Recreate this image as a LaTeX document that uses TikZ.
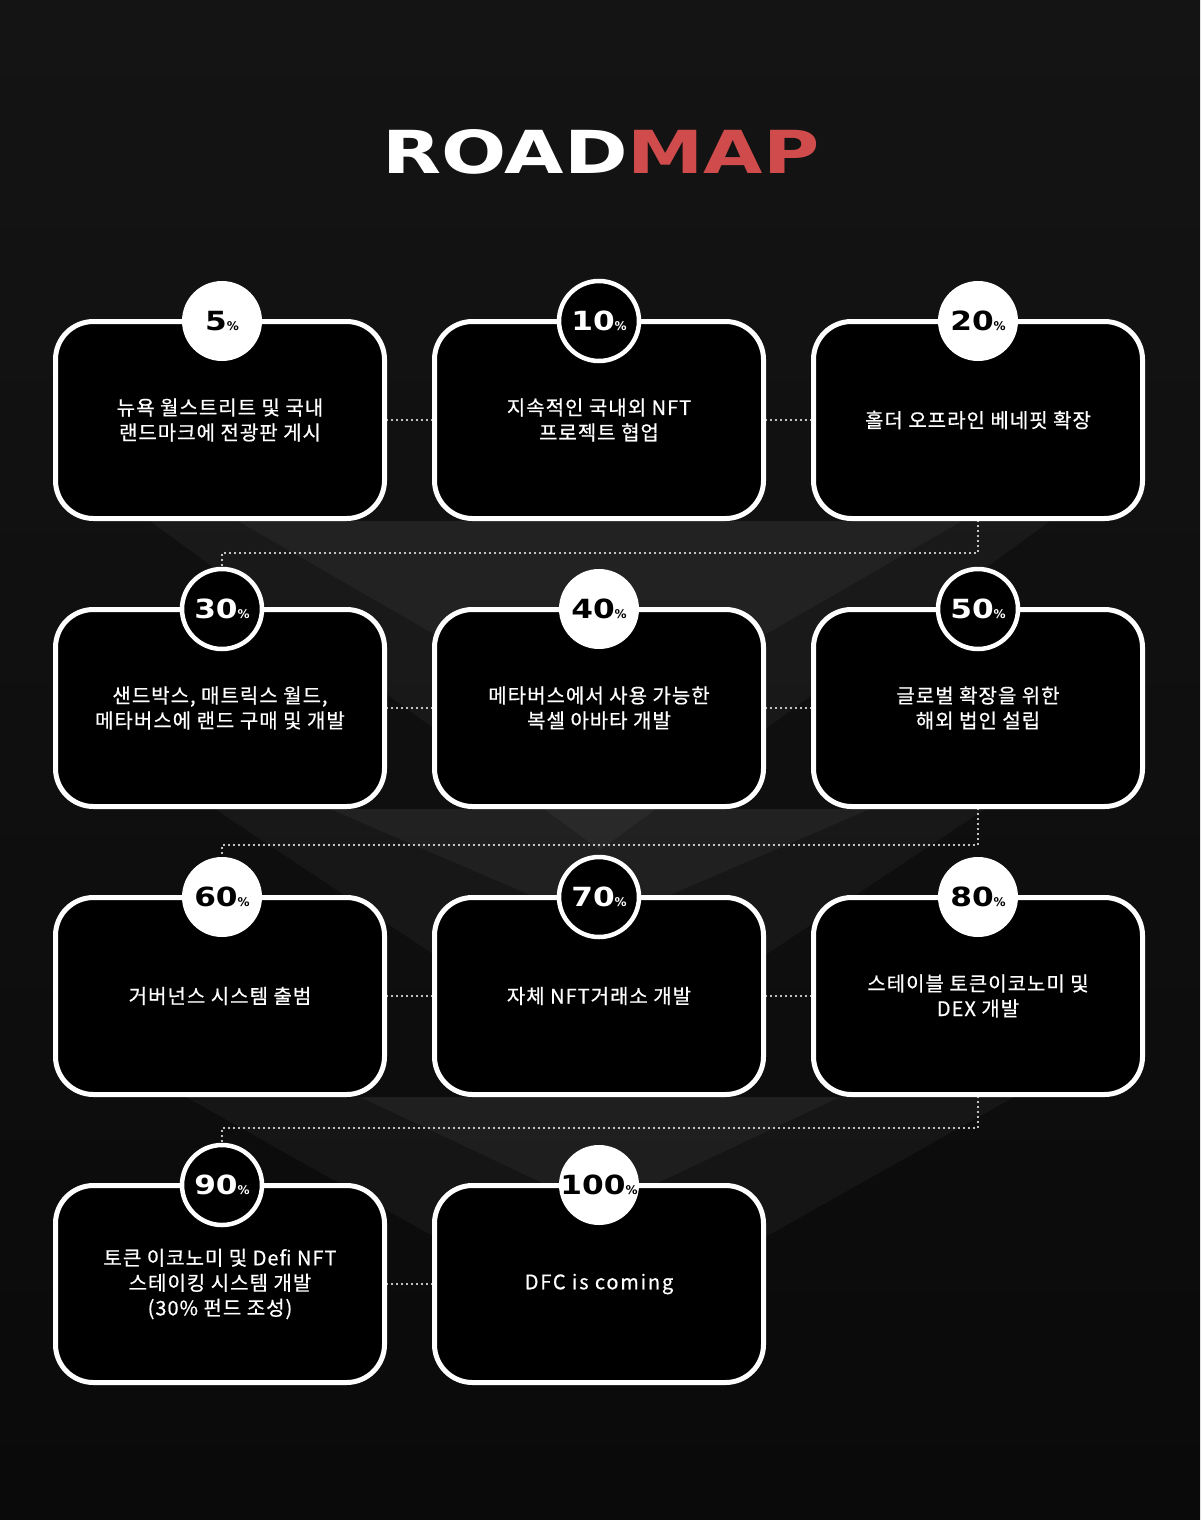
\documentclass[tikz,border=0pt]{standalone}
\usepackage{fontspec}
\usepackage{xcolor}
\usepackage{graphicx}
\setmainfont{Noto Sans CJK KR}[LetterSpace = 5, FakeBold = 0.6]
\newfontfamily\widelat{Noto Sans CJK KR}[LetterSpace = 9, FakeBold = 0.6]
\newfontfamily\badgefont{DejaVu Sans}
\definecolor{bgtop}{RGB}{20,20,20}
\definecolor{bgbottom}{RGB}{10,10,10}
\definecolor{mapred}{RGB}{208,76,76}
\newcommand{\badgetxt}[1]{{\badgefont\bfseries\scalebox{1.3}[1.1]{\fontsize{24}{24}\selectfont #1}\fontsize{12}{12}\selectfont\%}}

\begin{document}
\begin{tikzpicture}[x = 1pt, y = -1pt,
    box/.style = {rectangle, rounded corners = 38pt, draw = white, line width = 5pt, fill = black, minimum width = 329pt, minimum height = 197pt, text = white, align = center, font = \fontsize{20}{25}\selectfont},
    pwhite/.style = {circle, fill = white, minimum size = 80pt, inner sep = 0pt, text = black},
    pblack/.style = {circle, fill = black, draw = white, line width = 4.5pt, minimum size = 80pt, inner sep = 0pt, text = white},
    dotline/.style = {white, line width = 2.4pt, line cap = round, dash pattern = on 0pt off 5pt},
    chev/.style = {white, opacity = 0.04}]
      \useasboundingbox (0, 0) rectangle (1200, 1520);
      \shade[top color = bgtop, bottom color = bgbottom] (0, 0) rectangle (1200, 1520);
      % chevrons behind the boxes
      \fill[chev] (238, 521) -- (962, 521) -- (600, 730) -- cycle;
      \fill[chev] (150, 521) -- (1050, 521) -- (600, 850) -- cycle;
      \fill[chev] (330, 809) -- (870, 809) -- (600, 925) -- cycle;
      \fill[chev] (215, 809) -- (985, 809) -- (600, 1065) -- cycle;
      \fill[chev] (360, 1097) -- (840, 1097) -- (600, 1210) -- cycle;
      \fill[chev] (186, 1097) -- (1014, 1097) -- (600, 1330) -- cycle;
      \node [text = white] (title) at (601, 152) {\resizebox{437pt}{44pt}{\badgefont\bfseries ROAD\textcolor{mapred}{MAP}}};
      % steps
      \node [box] (b5) at (220, 420) {뉴욕 월스트리트 및 국내\\랜드마크에 전광판 게시};
      \node [box] (b10) at (599, 420) {지속적인 국내외 NFT\\프로젝트 협업};
      \node [box] (b20) at (978, 420) {홀더 오프라인 베네핏 확장};
      \node [box] (b30) at (220, 708) {샌드박스, 매트릭스 월드,\\메타버스에 랜드 구매 및 개발};
      \node [box] (b40) at (599, 708) {메타버스에서 사용 가능한\\복셀 아바타 개발};
      \node [box] (b50) at (978, 708) {글로벌 확장을 위한\\해외 법인 설립};
      \node [box] (b60) at (220, 996) {거버넌스 시스템 출범};
      \node [box] (b70) at (599, 996) {자체 NFT거래소 개발};
      \node [box] (b80) at (978, 996) {스테이블 토큰이코노미 및\\DEX 개발};
      \node [box] (b90) at (220, 1284) {토큰 이코노미 및 Defi NFT\\스테이킹 시스템 개발\\(30\% 펀드 조성)};
      \node [box] (b100) at (599, 1284) {\widelat DFC is coming};
      % badges
      \node [pwhite] (p5) at (222, 321) {\badgetxt{5}};
      \node [pblack] (p10) at (599, 321) {\badgetxt{10}};
      \node [pwhite] (p20) at (978, 321) {\badgetxt{20}};
      \node [pblack] (p30) at (222, 609) {\badgetxt{30}};
      \node [pwhite] (p40) at (599, 609) {\badgetxt{40}};
      \node [pblack] (p50) at (978, 609) {\badgetxt{50}};
      \node [pwhite] (p60) at (222, 897) {\badgetxt{60}};
      \node [pblack] (p70) at (599, 897) {\badgetxt{70}};
      \node [pwhite] (p80) at (978, 897) {\badgetxt{80}};
      \node [pblack] (p90) at (222, 1185) {\badgetxt{90}};
      \node [pwhite] (p100) at (599, 1185) {\badgetxt{100}};
      % dotted links
      \coordinate (r1) at (600, 553);
      \coordinate (r2) at (600, 845);
      \coordinate (r3) at (600, 1128);
      \draw[dotline] (b5.east) -- (b10.west);
      \draw[dotline] (b10.east) -- (b20.west);
      \draw[dotline] (b20.south) |- (r1) -| (p30.north);
      \draw[dotline] (b30.east) -- (b40.west);
      \draw[dotline] (b40.east) -- (b50.west);
      \draw[dotline] (b50.south) |- (r2) -| (p60.north);
      \draw[dotline] (b60.east) -- (b70.west);
      \draw[dotline] (b70.east) -- (b80.west);
      \draw[dotline] (b80.south) |- (r3) -| (p90.north);
      \draw[dotline] (b90.east) -- (b100.west);
    \end{tikzpicture}
\end{document}
